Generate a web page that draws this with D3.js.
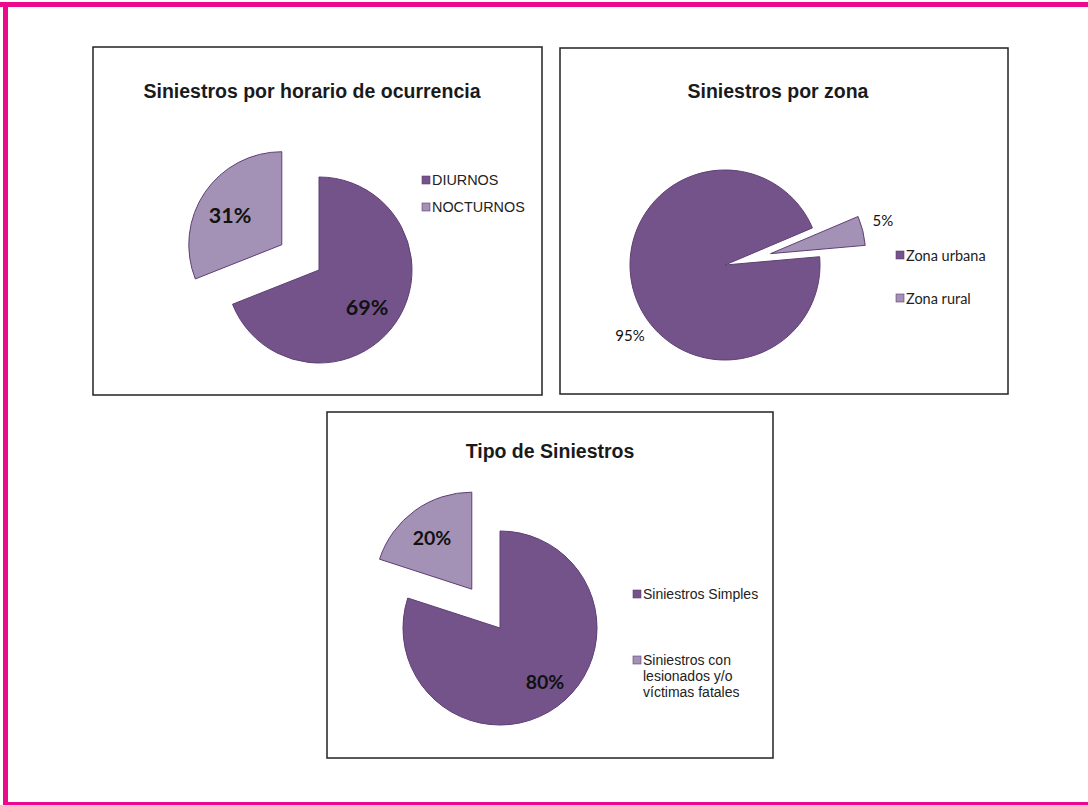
<!DOCTYPE html>
<html><head><meta charset="utf-8">
<script src="https://cdn.jsdelivr.net/npm/d3@7"></script>
<style>html,body{margin:0;padding:0;background:#fff;}svg{display:block;}</style>
</head><body>
<script>
// Chart 1
const horarioLabels = ["DIURNOS", "NOCTURNOS"];
const horarioValues = [69, 31];
// Chart 2
const zonaLabels = ["Zona urbana", "Zona rural"];
const zonaValues = [95, 5];
// Chart 3
const tipoLabels = ["Siniestros Simples", "Siniestros con lesionados y/o víctimas fatales"];
const tipoLegendLines = [["Siniestros Simples"], ["Siniestros con", "lesionados y/o", "víctimas fatales"]];
const tipoValues = [80, 20];

const colors = ["#74538a", "#a391b6"];
const strokeCol = "#5e3f74";

const svg = d3.select("body").append("svg").attr("width",1088).attr("height",805);

// pink frame
svg.append("rect").attr("x",0).attr("y",0).attr("width",1088).attr("height",805).attr("fill","#fff");
svg.append("rect").attr("x",0).attr("y",2).attr("width",1088).attr("height",5).attr("fill","#ec0a8c");
svg.append("rect").attr("x",3).attr("y",2).attr("width",5).attr("height",803).attr("fill","#ec0a8c");
svg.append("rect").attr("x",3).attr("y",802).attr("width",1085).attr("height",3).attr("fill","#ec0a8c");

function drawPanel(cfg){
  const g = svg.append("g");
  g.append("rect").attr("x",cfg.box[0]).attr("y",cfg.box[1]).attr("width",cfg.box[2]).attr("height",cfg.box[3])
    .attr("fill","#fff").attr("stroke","#222").attr("stroke-width",1.5);
  g.append("text").attr("x",cfg.titlePos[0]).attr("y",cfg.titlePos[1]).attr("text-anchor","middle")
    .attr("font-family","'Liberation Sans', Arial, sans-serif").attr("font-weight","bold").attr("font-size",19.5)
    .attr("fill","#1a1a1a").text(cfg.title);
  const pie = d3.pie().sort(null).value(d=>d)
    .startAngle(cfg.start*Math.PI/180).endAngle(cfg.start*Math.PI/180+2*Math.PI);
  const arcs = pie(cfg.values);
  const arc = d3.arc().innerRadius(0).outerRadius(cfg.r);
  arcs.forEach((a,i)=>{
    const mid=(a.startAngle+a.endAngle)/2;
    const ex = cfg.explode[i];
    const dx=Math.sin(mid)*ex, dy=-Math.cos(mid)*ex;
    const sg = g.append("g").attr("transform",`translate(${cfg.center[0]+dx},${cfg.center[1]+dy})`);
    sg.append("path").attr("d",arc(a)).attr("fill",colors[i]).attr("stroke",strokeCol).attr("stroke-width",1);
    const lp = cfg.labelPos[i];
    sg.append("text").attr("x",lp[0]-cfg.center[0]-dx).attr("y",lp[1]-cfg.center[1]-dy)
      .attr("text-anchor","middle").attr("dominant-baseline","central")
      .attr("font-family","Lato, 'Open Sans', sans-serif").attr("font-weight",cfg.labelBold?"bold":"normal")
      .attr("font-size",cfg.labelSize).attr("fill","#111")
      .text(cfg.values[i]+"%");
  });
  cfg.legend.forEach((lines,i)=>{
    const [lx,ly]=cfg.legendPos[i];
    g.append("rect").attr("x",lx).attr("y",ly-4).attr("width",8).attr("height",8)
      .attr("fill",colors[i]).attr("stroke",strokeCol).attr("stroke-width",0.6);
    lines.forEach((t,k)=>{
      g.append("text").attr("x",lx+10).attr("y",ly+k*16).attr("dominant-baseline","central")
        .attr("font-family",cfg.legendFont).attr("font-size",cfg.legendSize).attr("fill","#222").text(t);
    });
  });
}

drawPanel({
  box:[93,47,449,348], title:"Siniestros por horario de ocurrencia", titlePos:[312,98],
  values:horarioValues, start:0, r:93, center:[319,270], explode:[0,45],
  labelPos:[[367,307],[230,215]], labelBold:true, labelSize:21.5,
  legend:horarioLabels.map(d=>[d]), legendPos:[[422,180],[422,207]],
  legendFont:"'Liberation Sans', Arial, sans-serif", legendSize:14.4
});

drawPanel({
  box:[560,48,448,346], title:"Siniestros por zona", titlePos:[778,98],
  values:zonaValues, start:85, r:95, center:[725,265], explode:[0,47],
  labelPos:[[630,335],[883,220]], labelBold:false, labelSize:15,
  legend:zonaLabels.map(d=>[d]), legendPos:[[896,255],[896,298]],
  legendFont:"Lato, 'Open Sans', sans-serif", legendSize:14.5
});

drawPanel({
  box:[327,412,446,346], title:"Tipo de Siniestros", titlePos:[550,458],
  values:tipoValues, start:0, r:97, center:[500,628], explode:[0,48],
  labelPos:[[545,681],[432,537]], labelBold:true, labelSize:19.5,
  legend:tipoLegendLines, legendPos:[[633,594],[633,660]],
  legendFont:"'Liberation Sans', Arial, sans-serif", legendSize:14
});
</script>
</body></html>
